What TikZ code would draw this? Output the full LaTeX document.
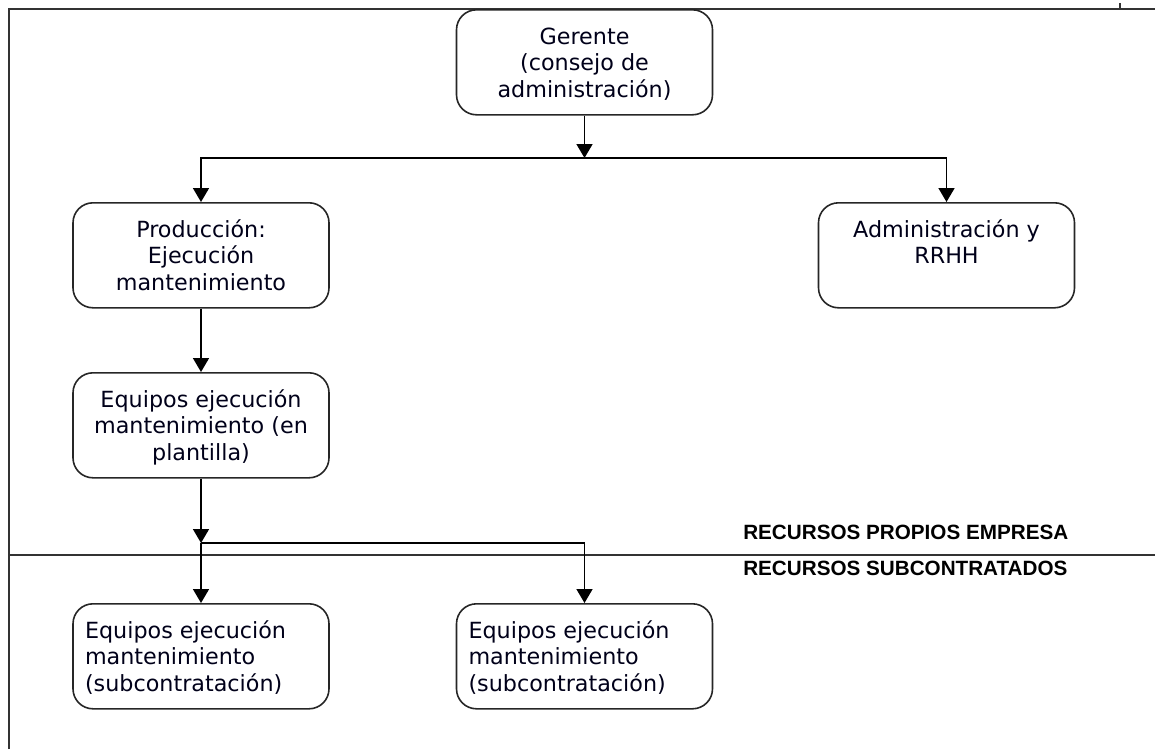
\documentclass[tikz,border=0pt]{standalone}
\usepackage{fontspec}
\usetikzlibrary{arrows.meta}
\newfontfamily\verd{DejaVu Sans}
\newfontfamily\arialb{Liberation Sans}
\newlength\px
\setlength\px{0.75pt}

% texto de una caja: primera linea a 35px del borde superior
\newcommand\centrado[1]{\parbox[c][105\px][t]{250\px}{\centering\rule{0pt}{35\px}#1}}
\newcommand\izquierda[1]{\parbox[c][105\px][t]{232\px}{\raggedright\rule{0pt}{35\px}#1}}

\tikzset{
  caja/.style={draw=black!85, line width=1.6\px, rounded corners=20\px, anchor=north,
    minimum width=256\px, minimum height=105\px, inner sep=0pt,
    font=\verd\fontsize{16.7}{19.6}\selectfont, text=black!90!blue},
  flecha/.style={line width=1.7\px, -{Triangle[length=10.5pt,width=12pt]}},
  marco/.style={draw=black!80, line width=2.2\px},
  rotulo/.style={anchor=base west, inner sep=0pt, font=\arialb\bfseries\fontsize{15.5}{18}\selectfont}
}

\begin{document}
\begin{tikzpicture}[x=0.75pt, y=-0.75pt]
        \useasboundingbox (0,0) rectangle (1155,749);

        % marco y separacion de recursos
        \draw[marco] (9,749) -- (9,9) -- (1155,9);
        \draw[marco] (1120,3) -- (1120,9);
        \draw[marco] (9,555) -- (1155,555);

        \node[rotulo] at (743,539) {RECURSOS PROPIOS EMPRESA};
        \node[rotulo] at (743,575) {RECURSOS SUBCONTRATADOS};

        % cajas
        \node[caja] (gerente) at (584.5,9) {\centrado{Gerente\\(consejo de\\administración)}};
        \node[caja] (prod) at (201,202) {\centrado{Producción:\\Ejecución\\mantenimiento}};
        \node[caja] (admin) at (946.5,202) {\centrado{Administración y\\RRHH}};
        \node[caja] (plantilla) at (201,372) {\centrado{Equipos ejecución\\mantenimiento (en\\plantilla)}};
        \node[caja] (sub1) at (201,603) {\izquierda{Equipos ejecución\\mantenimiento\\(subcontratación)}};
        \node[caja] (sub2) at (584.5,603) {\izquierda{Equipos ejecución\\mantenimiento\\(subcontratación)}};

        \coordinate (ramal) at (584.5,158);
        \coordinate (reparto) at (201,543);

        % conexiones
        \draw[flecha] (gerente.south) -- (ramal);
        \draw[flecha] (ramal) -| (prod.north);
        \draw[flecha] (ramal) -| (admin.north);
        \draw[flecha] (prod.south) -- (plantilla.north);
        \draw[flecha] (plantilla.south) -- (reparto);
        \draw[flecha] (reparto) -- (sub1.north);
        \draw[flecha] (reparto) -| (sub2.north);
\end{tikzpicture}
\end{document}
